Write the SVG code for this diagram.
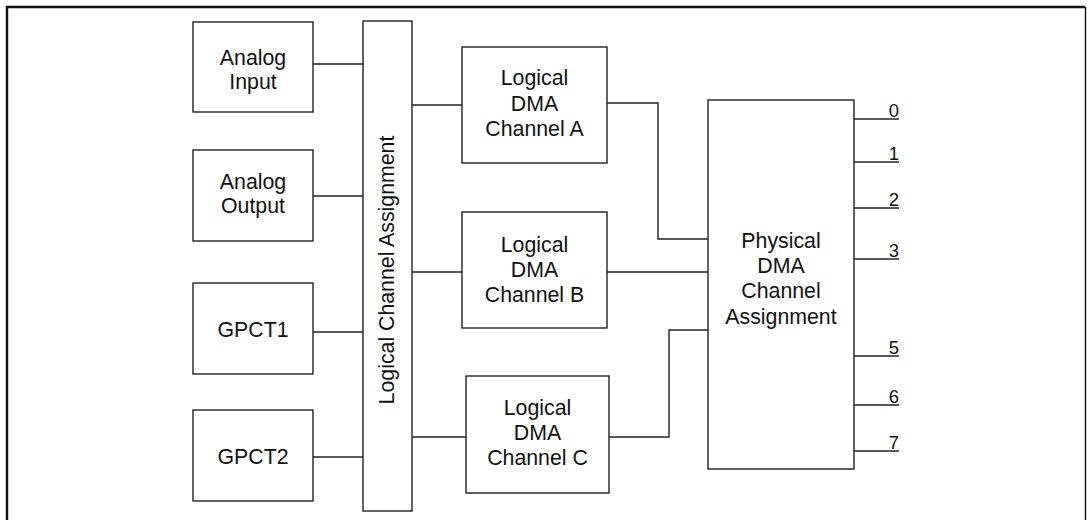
<svg xmlns="http://www.w3.org/2000/svg" width="1087" height="520" viewBox="0 0 1087 520">
<style>
.box{fill:#fff;stroke:#222;stroke-width:1.4}
.ln{fill:none;stroke:#222;stroke-width:1.4}
text{font-family:"Liberation Sans",Arial,sans-serif;font-size:21.3px;fill:#111;text-anchor:middle}
.num{font-size:18.5px;text-anchor:end}
</style>
<rect width="1087" height="520" fill="#fff"/>
<g id="frame" fill="none" stroke="#111">
<path d="M7,525 V7 H1085" stroke-width="2.4"/>
<path d="M1085.5,7 V525" stroke-width="1.4"/>
</g>
<g id="connectors">
<path class="ln" d="M313,64 H363"/>
<path class="ln" d="M313,196 H363"/>
<path class="ln" d="M313,332 H363"/>
<path class="ln" d="M313,457 H363"/>
<path class="ln" d="M412,105 H462"/>
<path class="ln" d="M412,272 H462"/>
<path class="ln" d="M412,437 H466"/>
<path class="ln" d="M607,103 H658 V239 H708"/>
<path class="ln" d="M607,272 H708"/>
<path class="ln" d="M609,437 H669 V330 H708"/>
<path class="ln" d="M854,119 H899"/>
<path class="ln" d="M854,162 H899"/>
<path class="ln" d="M854,208 H899"/>
<path class="ln" d="M854,259 H899"/>
<path class="ln" d="M854,356 H899"/>
<path class="ln" d="M854,405 H899"/>
<path class="ln" d="M854,451 H899"/>
</g>
<g id="analog-input"><rect class="box" x="193" y="22" width="120" height="90"/><text x="253" y="65">Analog</text><text x="253" y="89">Input</text></g>
<g id="analog-output"><rect class="box" x="193" y="150" width="120" height="91"/><text x="253" y="189">Analog</text><text x="253" y="213">Output</text></g>
<g id="gpct1"><rect class="box" x="193" y="283" width="120" height="91"/><text x="253" y="337">GPCT1</text></g>
<g id="gpct2"><rect class="box" x="193" y="410" width="120" height="91"/><text x="253" y="464">GPCT2</text></g>
<g id="logical-channel-assignment"><rect class="box" x="363" y="21" width="49" height="490"/><text transform="translate(394,270) rotate(-90)">Logical Channel Assignment</text></g>
<g id="channel-a"><rect class="box" x="462" y="47" width="145" height="116"/><text x="534.5" y="85">Logical</text><text x="534.5" y="111">DMA</text><text x="534.5" y="136">Channel A</text></g>
<g id="channel-b"><rect class="box" x="462" y="212" width="145" height="116"/><text x="534.5" y="252">Logical</text><text x="534.5" y="277">DMA</text><text x="534.5" y="302">Channel B</text></g>
<g id="channel-c"><rect class="box" x="466" y="376" width="143" height="117"/><text x="537.5" y="415">Logical</text><text x="537.5" y="440">DMA</text><text x="537.5" y="465">Channel C</text></g>
<g id="physical"><rect class="box" x="708" y="100" width="146" height="369"/><text x="781" y="248">Physical</text><text x="781" y="273">DMA</text><text x="781" y="298">Channel</text><text x="781" y="324">Assignment</text></g>
<g id="outputs">
<text class="num" x="899" y="117">0</text>
<text class="num" x="899" y="160">1</text>
<text class="num" x="899" y="206">2</text>
<text class="num" x="899" y="257">3</text>
<text class="num" x="899" y="354">5</text>
<text class="num" x="899" y="403">6</text>
<text class="num" x="899" y="449">7</text>
</g>
</svg>
